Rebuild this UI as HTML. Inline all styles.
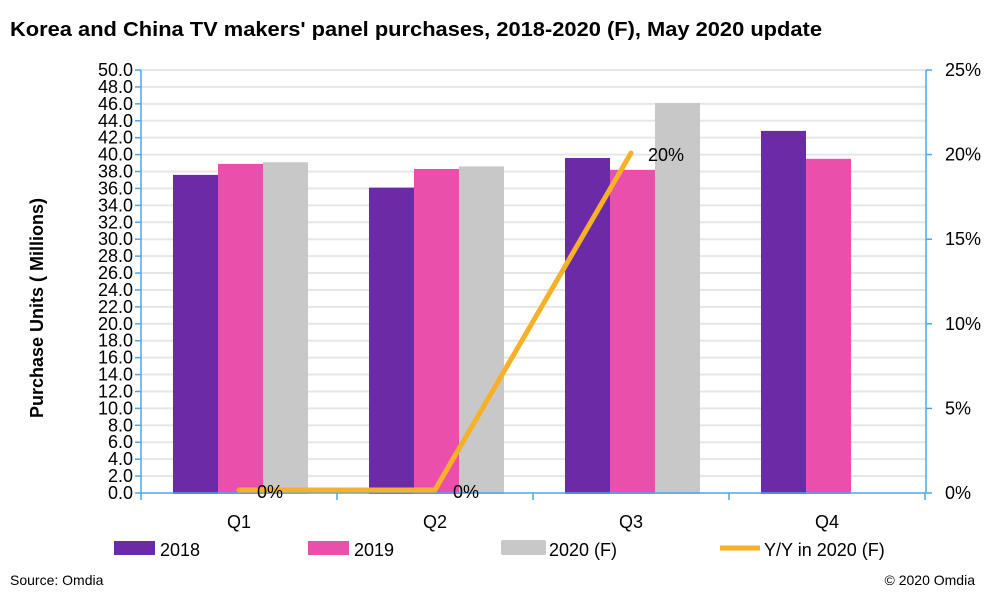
<!DOCTYPE html>
<html><head><meta charset="utf-8"><style>
body{margin:0;background:#fff}
svg text{font-family:"Liberation Sans",sans-serif;fill:#000}
</style></head><body>
<svg width="985" height="591" viewBox="0 0 985 591" xmlns="http://www.w3.org/2000/svg">
<rect width="985" height="591" fill="#fff"/>
<text x="10" y="36" font-size="20" font-weight="bold" textLength="812" lengthAdjust="spacingAndGlyphs">Korea and China TV makers' panel purchases, 2018-2020 (F), May 2020 update</text>
<g id="grid" stroke="#e6e6e6" stroke-width="2"></g>
<g id="bars"></g>
<g id="ax"></g>
<polyline points="239,490 435,490 631,153" fill="none" stroke="#f6b128" stroke-width="5" stroke-linecap="round" stroke-linejoin="round"/>
<text x="257" y="498" font-size="18">0%</text>
<text x="453" y="498" font-size="18">0%</text>
<text x="648" y="161" font-size="18">20%</text>
<text x="239" y="528" font-size="18" text-anchor="middle">Q1</text>
<text x="435" y="528" font-size="18" text-anchor="middle">Q2</text>
<text x="631" y="528" font-size="18" text-anchor="middle">Q3</text>
<text x="827" y="528" font-size="18" text-anchor="middle">Q4</text>
<text transform="translate(43,308) rotate(-90)" font-size="18" font-weight="bold" text-anchor="middle" textLength="220" lengthAdjust="spacingAndGlyphs">Purchase Units ( Millions)</text>
<rect x="114" y="541" width="41" height="14" fill="#6b2ba6"/><text x="160" y="556" font-size="18">2018</text>
<rect x="308" y="541" width="41" height="14" fill="#eb4fac"/><text x="354" y="556" font-size="18">2019</text>
<rect x="501" y="540" width="45" height="15" rx="2" fill="#c8c8c8"/><text x="549" y="556" font-size="18">2020 (F)</text>
<line x1="720" y1="548" x2="760" y2="548" stroke="#f6b128" stroke-width="5"/><text x="764" y="556" font-size="18">Y/Y in 2020 (F)</text>
<text x="10" y="585" font-size="14">Source: Omdia</text>
<text x="975" y="585" font-size="14" text-anchor="end">© 2020 Omdia</text>
</svg>
<script>
var ns="http://www.w3.org/2000/svg";
function el(p,t,a){var e=document.createElementNS(ns,t);for(var k in a)e.setAttribute(k,a[k]);document.getElementById(p).appendChild(e);return e;}
var y0=493,ppu=423/50;
for(var i=1;i<=25;i++){var y=y0-i*2*ppu;el("grid","line",{x1:141,x2:926,y1:y,y2:y});}
var d=[[37.6,38.9,39.1],[36.1,38.3,38.6],[39.6,38.2,46.1],[42.8,39.5,null]];
var c=["#6b2ba6","#eb4fac","#c8c8c8"];
for(var q=0;q<4;q++)for(var s=0;s<3;s++){var v=d[q][s];if(v==null)continue;var x=141+q*196+32+s*45;var h=v*ppu;el("bars","rect",{x:x,y:y0-h,width:45,height:h+1,fill:c[s]});}
var b="#4da6ee";
el("ax","line",{x1:141,x2:141,y1:70,y2:493,stroke:b,"stroke-width":1.5});
el("ax","line",{x1:141,x2:926,y1:493,y2:493,stroke:b,"stroke-width":1.5});
el("ax","line",{x1:926,x2:926,y1:70,y2:493,stroke:b,"stroke-width":1.5});
for(var i=0;i<=25;i++){var y=y0-i*2*ppu;el("ax","line",{x1:135,x2:141,y1:y,y2:y,stroke:b,"stroke-width":1.5});
var t=el("ax","text",{x:133,y:y+6,"font-size":18,"text-anchor":"end"});t.textContent=(i*2).toFixed(1);}
for(var q=0;q<=4;q++){var x=141+q*196;el("ax","line",{x1:x,x2:x,y1:493,y2:500,stroke:b,"stroke-width":1.5});}
for(var i=0;i<=5;i++){var y=y0-i*5/25*423;el("ax","line",{x1:926,x2:932,y1:y,y2:y,stroke:b,"stroke-width":1.5});
var t=el("ax","text",{x:945,y:y+6,"font-size":18});t.textContent=(i*5)+"%";}
</script>
</body></html>
